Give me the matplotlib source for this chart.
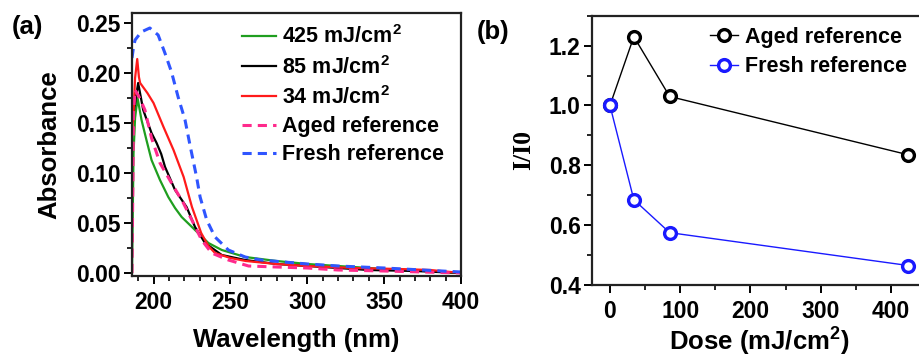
import matplotlib
matplotlib.use("Agg")
import matplotlib.pyplot as plt
from matplotlib.ticker import MultipleLocator

plt.rcParams['font.family'] = ['Liberation Sans', 'DejaVu Sans']
plt.rcParams['font.weight'] = 'bold'
plt.rcParams['mathtext.fontset'] = 'custom'
plt.rcParams['mathtext.rm'] = 'Liberation Sans:bold'
plt.rcParams['mathtext.bf'] = 'Liberation Sans:bold'
plt.rcParams['mathtext.default'] = 'bf'

# ---- Panel (a) data: absorbance spectra ----
wl_fresh = [186, 187, 188, 192, 197.6, 203, 207.4, 211.7, 216, 220.5, 223.7, 228, 230.3, 234.6, 240, 248.7, 259.6, 270, 285, 300, 320, 350, 375, 400]
abs_fresh = [0.215, 0.226, 0.233, 0.241, 0.245, 0.238, 0.220, 0.201, 0.176, 0.153, 0.128, 0.096, 0.076, 0.053, 0.036, 0.023, 0.016, 0.013, 0.011, 0.009, 0.007, 0.005, 0.003, 0.001]

wl_34 = [186, 187, 188, 189.4, 190.5, 191.3, 196, 200, 206.5, 213, 219.6, 225, 231, 235.7, 240, 250, 260, 280, 300, 330, 360, 380, 400]
abs_34 = [0.14, 0.16, 0.195, 0.214, 0.196, 0.190, 0.180, 0.170, 0.146, 0.123, 0.096, 0.066, 0.040, 0.027, 0.020, 0.015, 0.012, 0.009, 0.007, 0.005, 0.004, 0.003, 0.0]

wl_85 = [186, 188, 190, 193.3, 198.7, 202, 205, 207.5, 214, 221.5, 227, 233.5, 244.4, 259.6, 280, 300, 320, 340, 370, 400]
abs_85 = [0.15, 0.17, 0.190, 0.163, 0.140, 0.130, 0.119, 0.106, 0.083, 0.066, 0.046, 0.030, 0.018, 0.013, 0.009, 0.007, 0.005, 0.003, 0.002, 0.0]

wl_425 = [186, 187, 188, 189.6, 192.2, 195.4, 198.7, 204.2, 209.6, 214, 218.3, 227, 235.7, 244.4, 259.6, 280, 300, 330, 350, 380, 400]
abs_425 = [0.0, 0.12, 0.155, 0.175, 0.153, 0.133, 0.113, 0.093, 0.076, 0.065, 0.056, 0.043, 0.030, 0.023, 0.016, 0.012, 0.009, 0.006, 0.004, 0.002, 0.0]

wl_aged = [186, 187, 188, 191, 194.4, 198.7, 204.2, 211.7, 219.4, 225.9, 231.3, 237.8, 248.7, 261.8, 280, 300, 320, 350, 375, 400]
abs_aged = [0.0, 0.16, 0.183, 0.175, 0.163, 0.135, 0.110, 0.090, 0.070, 0.050, 0.033, 0.020, 0.013, 0.007, 0.006, 0.005, 0.003, 0.002, 0.001, 0.0]

# ---- Panel (b) data ----
dose = [0, 34, 85, 425]
ratio_aged = [1.0, 1.23, 1.03, 0.835]
ratio_fresh = [1.0, 0.685, 0.575, 0.465]

W, H = 919, 358
fig = plt.figure(figsize=(W / 100, H / 100), dpi=100)

TICK_FS = 16.5
LABEL_FS = 18.5
LEG_FS = 15.5

def style_axes(ax):
    for s in ax.spines.values():
        s.set_linewidth(1.6)
        s.set_color('#222222')
    ax.tick_params(which='major', direction='out', length=6, width=1.4, labelsize=TICK_FS, pad=2)
    ax.tick_params(which='minor', direction='out', length=3.5, width=1.2)
    ax.tick_params(axis='x', which='major', pad=5)
    for lab in ax.get_xticklabels() + ax.get_yticklabels():
        lab.set_fontweight('bold')

# Panel (a)
axA = fig.add_axes([132 / W, 1 - 276 / H, (461 - 132) / W, (276 - 13) / H])
axA.plot(wl_425, abs_425, color='#1f9e1f', lw=1.6, label=r'425 mJ/cm$^{2}$')
axA.plot(wl_85, abs_85, color='black', lw=1.6, label=r'85 mJ/cm$^{2}$')
axA.plot(wl_34, abs_34, color='#ff1a1a', lw=1.6, label=r'34 mJ/cm$^{2}$')
axA.plot(wl_aged, abs_aged, color='#ff2a8c', lw=2.2, ls=(0, (3, 2)), label='Aged reference')
axA.plot(wl_fresh, abs_fresh, color='#2f55ff', lw=2.2, ls=(0, (3, 2)), label='Fresh reference')
axA.set_xlim(186, 400)
axA.set_ylim(-0.003, 0.26)
axA.set_xticks([200, 250, 300, 350, 400])
axA.set_yticks([0.0, 0.05, 0.10, 0.15, 0.20, 0.25])
axA.set_yticklabels(['0.00', '0.05', '0.10', '0.15', '0.20', '0.25'])
axA.xaxis.set_minor_locator(MultipleLocator(10))
axA.yaxis.set_minor_locator(MultipleLocator(0.025))
style_axes(axA)
axA.set_xlabel('Wavelength (nm)', fontsize=LABEL_FS, fontweight='bold', labelpad=10)
axA.set_ylabel('Absorbance', fontsize=LABEL_FS, fontweight='bold', labelpad=11)
legA = axA.legend(loc='upper left', bbox_to_anchor=(0.29, 1.01), frameon=False,
                  prop={'size': LEG_FS, 'weight': 'bold'}, handlelength=1.55,
                  handletextpad=0.3, labelspacing=0.34, borderpad=0.2)
fig.text(12 / W, 1 - 27 / H, '(a)', fontsize=LABEL_FS, fontweight='bold', va='center', ha='left')

# Panel (b)
axB = fig.add_axes([591.7 / W, 1 - 285 / H, (926 - 591.7) / W, (285 - 15.7) / H])
axB.plot(dose, ratio_aged, color='black', lw=1.0, marker='o', ms=8.5, mfc='white',
         mec='black', mew=2.4, label='Aged reference')
axB.plot(dose, ratio_fresh, color='#1a1aff', lw=1.0, marker='o', ms=8.5, mfc='white',
         mec='#1a1aff', mew=2.4, label='Fresh reference')
axB.set_xlim(-26, 450)
axB.set_ylim(0.4, 1.3)
axB.set_xticks([0, 100, 200, 300, 400])
axB.set_yticks([0.4, 0.6, 0.8, 1.0, 1.2])
axB.xaxis.set_minor_locator(MultipleLocator(50))
axB.yaxis.set_minor_locator(MultipleLocator(0.1))
style_axes(axB)
axB.set_xlabel(r'Dose (mJ/cm$^{2}$)', fontsize=LABEL_FS, fontweight='bold', labelpad=2)
axB.set_ylabel('I/I0', fontsize=LABEL_FS, fontweight='bold', family='Liberation Serif', labelpad=10)
legB = axB.legend(loc='upper left', bbox_to_anchor=(0.31, 1.015), frameon=False,
                  prop={'size': LEG_FS, 'weight': 'bold'}, handlelength=1.3,
                  handletextpad=0.3, labelspacing=0.4, borderpad=0.2)
fig.text(477 / W, 1 - 32 / H, '(b)', fontsize=LABEL_FS, fontweight='bold', va='center', ha='left')

fig.savefig('out.png', dpi=100)
